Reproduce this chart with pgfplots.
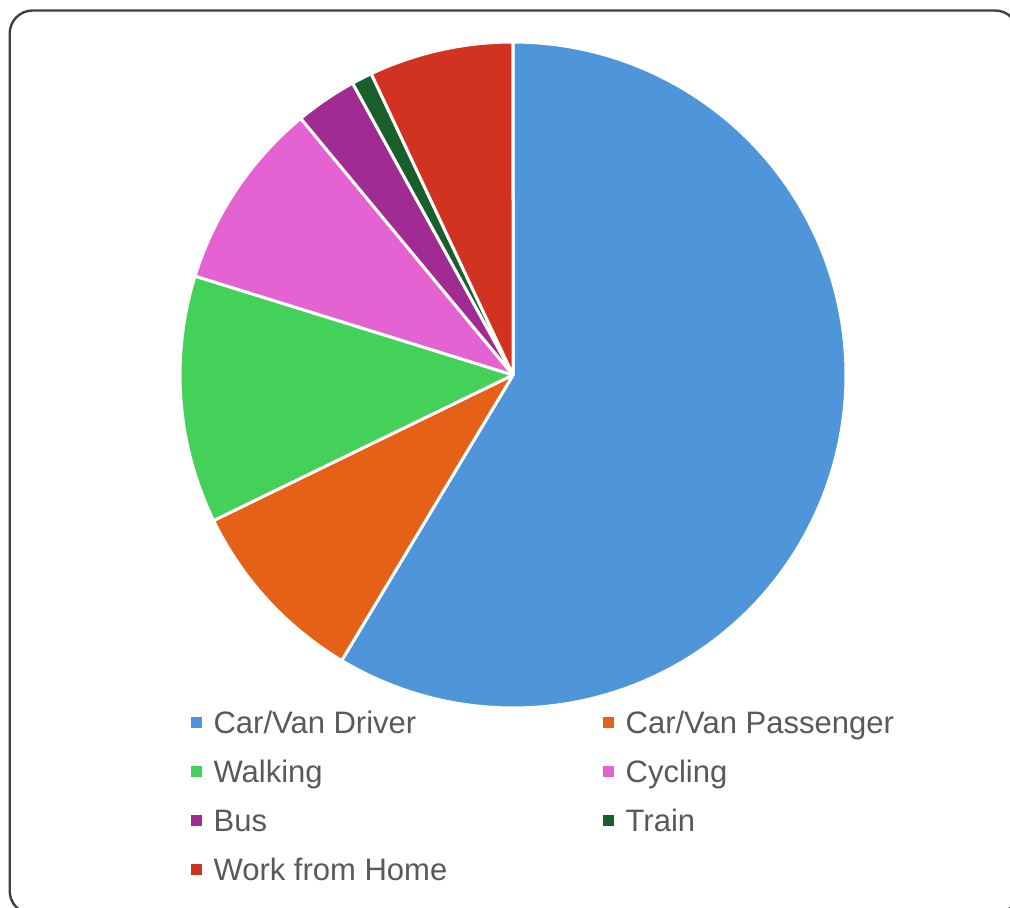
\documentclass[border=0pt]{standalone}
\usepackage{pgfplots}
\pgfplotsset{compat=1.18}
\usepackage{fontspec}
\setmainfont{Liberation Sans}
\definecolor{cDriver}{HTML}{4E95D9}
\definecolor{cPass}{HTML}{E66118}
\definecolor{cWalk}{HTML}{44D15A}
\definecolor{cCyc}{HTML}{E562D3}
\definecolor{cBus}{HTML}{A02B93}
\definecolor{cTrain}{HTML}{1A5E2C}
\definecolor{cWFH}{HTML}{D23220}
\definecolor{legendgray}{HTML}{595959}
\definecolor{framegray}{HTML}{404040}
% slice from cumulative percentage #1 to #2, clockwise from 12 o'clock
\newcommand{\pieslice}[3]{%
  \addplot[fill=#3, draw=white, line width=1.5pt, line join=round, domain=#1*3.6:#2*3.6, samples=150, forget plot]
    ({sin(x)},{cos(x)}) -- (axis cs:0,0) -- cycle;}
\begin{document}
\begin{tikzpicture}
\useasboundingbox (0,0) rectangle (505pt,454pt);
\draw[framegray, line width=1.2pt, rounded corners=11.5pt] (4.85pt,-3pt) rectangle (509pt,448.75pt);
\begin{axis}[
  at={(256.5pt,266.5pt)}, anchor=center,
  x=166.5pt, y=166.5pt,
  xmin=-1, xmax=1, ymin=-1, ymax=1,
  enlargelimits=false, hide axis, clip=false,
  legend columns=2,
  legend cell align=left,
  legend image code/.code={\fill[#1] (0pt,-2.75pt) rectangle (5.5pt,2.75pt);},
  legend style={draw=none, fill=none, inner sep=0pt, outer sep=0pt,
    at={(0.0159,0.00345)}, anchor=north west,
    font=\fontsize{15.5}{18}\selectfont, text=legendgray,
    row sep=7.6pt,
    nodes={inner sep=0pt, text height=14pt, text depth=2.9pt},
    /tikz/column 1/.style={column sep=6pt},
    /tikz/column 2/.style={column sep=77.7pt},
    /tikz/column 3/.style={column sep=6pt}},
]
% values (percent): Driver 58.6, Passenger 9.2, Walking 12.0, Cycling 9.2, Bus 3.0, Train 1.0, WFH 7.0
\pieslice{0}{58.6}{cDriver}
\pieslice{58.6}{67.8}{cPass}
\pieslice{67.8}{79.8}{cWalk}
\pieslice{79.8}{89.0}{cCyc}
\pieslice{89.0}{92.0}{cBus}
\pieslice{92.0}{93.0}{cTrain}
\pieslice{93.0}{100}{cWFH}
\addlegendimage{fill=cDriver, draw=none}\addlegendentry{Car/Van Driver}
\addlegendimage{fill=cPass, draw=none}\addlegendentry{Car/Van Passenger}
\addlegendimage{fill=cWalk, draw=none}\addlegendentry{Walking}
\addlegendimage{fill=cCyc, draw=none}\addlegendentry{Cycling}
\addlegendimage{fill=cBus, draw=none}\addlegendentry{Bus}
\addlegendimage{fill=cTrain, draw=none}\addlegendentry{Train}
\addlegendimage{fill=cWFH, draw=none}\addlegendentry{Work from Home}
\end{axis}
\end{tikzpicture}
\end{document}
